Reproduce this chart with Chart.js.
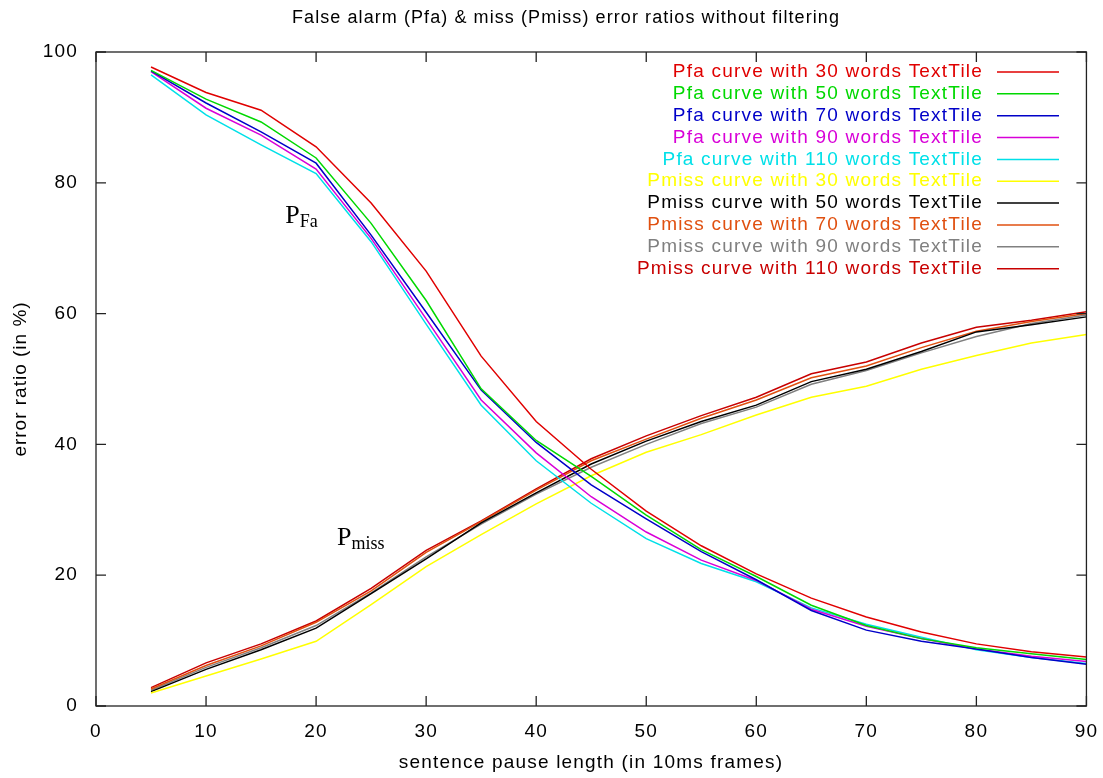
<!DOCTYPE html>
<html>
<head>
<meta charset="utf-8">
<script src="https://cdn.jsdelivr.net/npm/chart.js@4.4.0/dist/chart.umd.min.js"></script>
<style>
  html, body { margin: 0; padding: 0; background: #fff; }
  #wrap { width: 1103px; height: 778px; }
</style>
</head>
<body>
<div id="wrap"><canvas id="errChart" width="1103" height="778"></canvas></div>
<script>
// Data (x = sentence pause length, y = error ratio in %)
const pauseLengths = [5, 10, 15, 20, 25, 30, 35, 40, 45, 50, 55, 60, 65, 70, 75, 80, 85, 90];

const pfa30  = [97.7, 93.8, 91.1, 85.5, 76.9, 66.5, 53.5, 43.5, 36.2, 29.8, 24.5, 20.2, 16.5, 13.6, 11.3, 9.5, 8.3, 7.5];
const pfa50  = [97.2, 92.8, 89.3, 83.8, 73.8, 62.0, 48.5, 40.6, 35.1, 29.2, 23.9, 19.8, 15.4, 12.3, 10.3, 8.9, 8.0, 7.1];
const pfa70  = [97.1, 92.2, 87.8, 83.0, 72.0, 60.2, 48.3, 40.3, 33.8, 28.6, 23.6, 19.3, 14.6, 11.6, 9.9, 8.7, 7.4, 6.4];
const pfa90  = [97.0, 91.4, 87.3, 82.1, 71.5, 59.2, 46.8, 38.7, 32.0, 26.6, 22.3, 19.2, 14.8, 12.2, 10.3, 8.7, 7.6, 6.8];
const pfa110 = [96.5, 90.4, 85.8, 81.4, 71.0, 58.4, 46.0, 37.5, 31.0, 25.6, 21.8, 19.0, 15.0, 12.5, 10.5, 8.6, 7.4, 6.5];

const pmiss30  = [2.0, 4.6, 7.2, 9.9, 15.5, 21.3, 26.2, 30.9, 35.2, 38.8, 41.5, 44.5, 47.2, 48.9, 51.5, 53.6, 55.5, 56.8];
const pmiss50  = [2.2, 5.6, 8.6, 11.9, 17.2, 22.5, 28.0, 32.6, 37.0, 40.5, 43.5, 46.0, 49.6, 51.5, 54.2, 57.2, 58.3, 59.5];
const pmiss70  = [2.6, 6.2, 9.2, 12.8, 17.6, 23.5, 28.2, 33.0, 37.5, 40.8, 44.0, 46.8, 50.2, 52.0, 54.8, 57.3, 58.8, 60.0];
const pmiss90  = [2.4, 5.9, 8.9, 12.3, 17.3, 22.8, 27.8, 32.4, 36.5, 40.0, 43.2, 45.7, 49.2, 51.3, 54.0, 56.5, 58.5, 59.8];
const pmiss110 = [2.8, 6.6, 9.5, 13.0, 18.0, 23.8, 28.3, 33.2, 37.8, 41.3, 44.4, 47.2, 50.8, 52.6, 55.5, 57.9, 59.0, 60.3];

const seriesLabels = [
    'Pfa curve with 30 words TextTile',
    'Pfa curve with 50 words TextTile',
    'Pfa curve with 70 words TextTile',
    'Pfa curve with 90 words TextTile',
    'Pfa curve with 110 words TextTile',
    'Pmiss curve with 30 words TextTile',
    'Pmiss curve with 50 words TextTile',
    'Pmiss curve with 70 words TextTile',
    'Pmiss curve with 90 words TextTile',
    'Pmiss curve with 110 words TextTile'
];
const seriesValues = [pfa30, pfa50, pfa70, pfa90, pfa110, pmiss30, pmiss50, pmiss70, pmiss90, pmiss110];
const seriesColors = ['#e00000', '#00d800', '#0000c8', '#d800d8', '#00e0e8',
                      '#ffff00', '#000000', '#e05010', '#808080', '#c80000'];

const xTicks = [0, 10, 20, 30, 40, 50, 60, 70, 80, 90];
const yTicks = [0, 20, 40, 60, 80, 100];

const chartTitle = 'False alarm (Pfa) & miss (Pmiss) error ratios without filtering';
const xTitle = 'sentence pause length (in 10ms frames)';
const yTitle = 'error ratio (in %)';

const FONT = '"Liberation Sans", Arial, Helvetica, sans-serif';
const SERIF = '"Liberation Serif", "Times New Roman", serif';
const FONT_SIZE = 19;
const SPACING = 1.2;

// draw text stretched a bit like the gnuplot output
function spacedText(ctx, text, x, y, align, spacing) {
    ctx.save()
    ctx.letterSpacing = spacing + 'px'
    ctx.textAlign = align
    ctx.textBaseline = 'middle'
    ctx.fillText(text, x, y)
    ctx.restore()
}

const datasets = seriesValues.map((vals, i) => ({
    label: seriesLabels[i],
    data: pauseLengths.map((x, j) => ({ x: x, y: vals[j] })),
    borderColor: seriesColors[i],
    backgroundColor: seriesColors[i],
    borderWidth: 1.5,
    pointRadius: 0,
    tension: 0,
    fill: false
}));

const gnuplotLook = {
    id: 'gnuplotLook',
    beforeDraw(chart) {
        // tick labels in the original are letter spaced
        chart.ctx.letterSpacing = SPACING + 'px'
    },
    afterDraw(chart) {
        const ctx = chart.ctx
        const area = chart.chartArea
        const xs = chart.scales.x
        const ys = chart.scales.y
        ctx.save()
        ctx.letterSpacing = '0px'

        // frame
        ctx.strokeStyle = '#222'
        ctx.lineWidth = 1.3
        ctx.strokeRect(area.left, area.top, area.right - area.left, area.bottom - area.top)

        // inward ticks, mirrored
        const tl = 10
        ctx.beginPath()
        xTicks.forEach(v => {
            const px = xs.getPixelForValue(v)
            ctx.moveTo(px, area.bottom); ctx.lineTo(px, area.bottom - tl)
            ctx.moveTo(px, area.top); ctx.lineTo(px, area.top + tl)
        })
        yTicks.forEach(v => {
            const py = ys.getPixelForValue(v)
            ctx.moveTo(area.left, py); ctx.lineTo(area.left + tl, py)
            ctx.moveTo(area.right, py); ctx.lineTo(area.right - tl, py)
        })
        ctx.stroke()

        // title
        ctx.fillStyle = '#000'
        ctx.font = '18px ' + FONT
        const natural = ctx.measureText(chartTitle).width
        const titleSpacing = (548 - natural) / chartTitle.length
        spacedText(ctx, chartTitle, 566, 18, 'center', titleSpacing)

        // axis titles
        ctx.font = FONT_SIZE + 'px ' + FONT
        spacedText(ctx, xTitle, 591, 763, 'center', SPACING)
        ctx.save()
        ctx.translate(21, 379)
        ctx.rotate(-Math.PI / 2)
        spacedText(ctx, yTitle, 0, 0, 'center', 1.0)
        ctx.restore()

        // legend: coloured text right aligned, sample line on the right
        chart.data.datasets.forEach((ds, i) => {
            const y = 72 + i * 21.85
            ctx.fillStyle = ds.borderColor
            spacedText(ctx, ds.label, 983, y, 'right', SPACING)
            ctx.strokeStyle = ds.borderColor
            ctx.lineWidth = 1.5
            ctx.beginPath()
            ctx.moveTo(997, y)
            ctx.lineTo(1059, y)
            ctx.stroke()
        })

        // curve annotations
        ctx.fillStyle = '#000'
        ctx.textAlign = 'left'
        ctx.textBaseline = 'alphabetic'
        const notes = [
            { x: 17.2, y: 73.9, main: 'P', sub: 'Fa' },
            { x: 21.9, y: 24.6, main: 'P', sub: 'miss' }
        ]
        notes.forEach(n => {
            const px = xs.getPixelForValue(n.x)
            const py = ys.getPixelForValue(n.y)
            ctx.font = '26px ' + SERIF
            ctx.fillText(n.main, px, py)
            const w = ctx.measureText(n.main).width
            ctx.font = '18px ' + SERIF
            ctx.fillText(n.sub, px + w, py + 4)
        })
        ctx.restore()
    }
};

const ctx = document.getElementById('errChart').getContext('2d');
const errChart = new Chart(ctx, {
    type: 'line',
    data: { datasets: datasets },
    options: {
        responsive: false,
        animation: false,
        devicePixelRatio: 1,
        layout: { padding: { top: 52, right: 16, left: 0, bottom: 0 } },
        plugins: {
            legend: { display: false },
            title: { display: false },
            tooltip: { enabled: false }
        },
        scales: {
            x: {
                type: 'linear',
                min: 0,
                max: 90,
                grid: { display: false },
                border: { display: false },
                ticks: {
                    stepSize: 10,
                    padding: 6,
                    color: '#000',
                    font: { family: FONT, size: FONT_SIZE }
                },
                afterFit(scale) { scale.height = 72 }
            },
            y: {
                min: 0,
                max: 100,
                grid: { display: false },
                border: { display: false },
                ticks: {
                    stepSize: 20,
                    padding: 10,
                    color: '#000',
                    font: { family: FONT, size: FONT_SIZE }
                },
                afterFit(scale) { scale.width = 96 }
            }
        }
    },
    plugins: [gnuplotLook]
});
</script>
</body>
</html>
